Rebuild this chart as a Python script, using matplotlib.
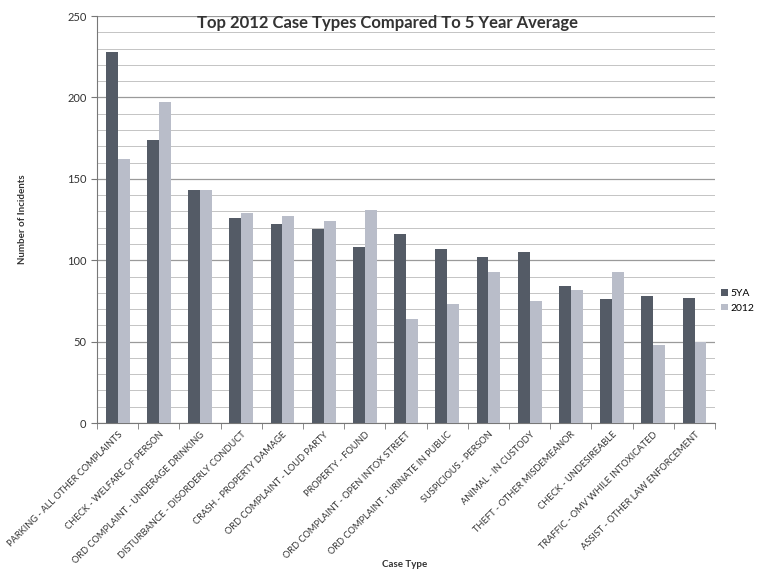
import matplotlib.pyplot as plt
import numpy as np

plt.rcParams['font.family'] = ['Lato', 'DejaVu Sans']

case_types = [
    'PARKING - ALL OTHER COMPLAINTS',
    'CHECK - WELFARE OF PERSON',
    'ORD COMPLAINT - UNDERAGE DRINKING',
    'DISTURBANCE - DISORDERLY CONDUCT',
    'CRASH - PROPERTY DAMAGE',
    'ORD COMPLAINT - LOUD PARTY',
    'PROPERTY - FOUND',
    'ORD COMPLAINT - OPEN INTOX STREET',
    'ORD COMPLAINT - URINATE IN PUBLIC',
    'SUSPICIOUS - PERSON',
    'ANIMAL - IN CUSTODY',
    'THEFT - OTHER MISDEMEANOR',
    'CHECK - UNDESIREABLE',
    'TRAFFIC - OMV WHILE INTOXICATED',
    'ASSIST - OTHER LAW ENFORCEMENT',
]
avg_5ya = [228, 174, 143, 126, 122, 119, 108, 116, 107, 102, 105, 84, 76, 78, 77]
y2012 = [162, 197, 143, 129, 127, 124, 131, 64, 73, 93, 75, 82, 93, 48, 50]

fig = plt.figure(figsize=(7.64, 5.74), dpi=100)
ax = fig.add_axes([0.127, 0.263, 0.809, 0.709])

x = np.arange(len(case_types))
w = 0.29
ax.bar(x - w / 2, avg_5ya, w, color='#545b66', label='5YA', zorder=3)
ax.bar(x + w / 2, y2012, w, color='#b9bdc9', label='2012', zorder=3)

ax.set_xlim(-0.5, len(case_types) - 0.5)
ax.set_ylim(0, 250)
ax.set_yticks(range(0, 251, 50))
ax.set_yticks(range(0, 251, 10), minor=True)
ax.grid(axis='y', which='major', color='#9a9a9a', linewidth=0.9, zorder=0)
ax.grid(axis='y', which='minor', color='#c4c4c4', linewidth=0.7, zorder=0)

ax.set_xticks(x)
ax.set_xticklabels(case_types, rotation=45, ha='right', rotation_mode='anchor',
                   fontsize=6.7, color='#333333')
ax.set_xticks(np.arange(-0.5, len(case_types), 1), minor=True)
ax.tick_params(axis='x', which='major', length=0, pad=5)
ax.tick_params(axis='x', which='minor', length=4, color='#777777')
ax.tick_params(axis='y', which='major', labelsize=8, length=4, color='#777777', labelcolor='#333333')
ax.tick_params(axis='y', which='minor', length=0)

for s in ['top', 'right']:
    ax.spines[s].set_visible(False)
ax.spines['left'].set_color('#777777')
ax.spines['bottom'].set_color('#777777')

ax.set_ylabel('Number of Incidents', fontsize=7, fontweight='bold', color='#333333', labelpad=29)
fig.text(0.53, 0.012, 'Case Type', fontsize=7, fontweight='bold', color='#333333', ha='center')
fig.text(0.507, 0.952, 'Top 2012 Case Types Compared To 5 Year Average', fontsize=12,
         fontweight='bold', color='#333333', ha='center')

ax.legend(loc='center left', bbox_to_anchor=(0.995, 0.3), frameon=False, fontsize=7.5,
          handlelength=0.6, handleheight=0.6, handletextpad=0.3, labelspacing=0.55)

fig.savefig('out.png', dpi=100)
